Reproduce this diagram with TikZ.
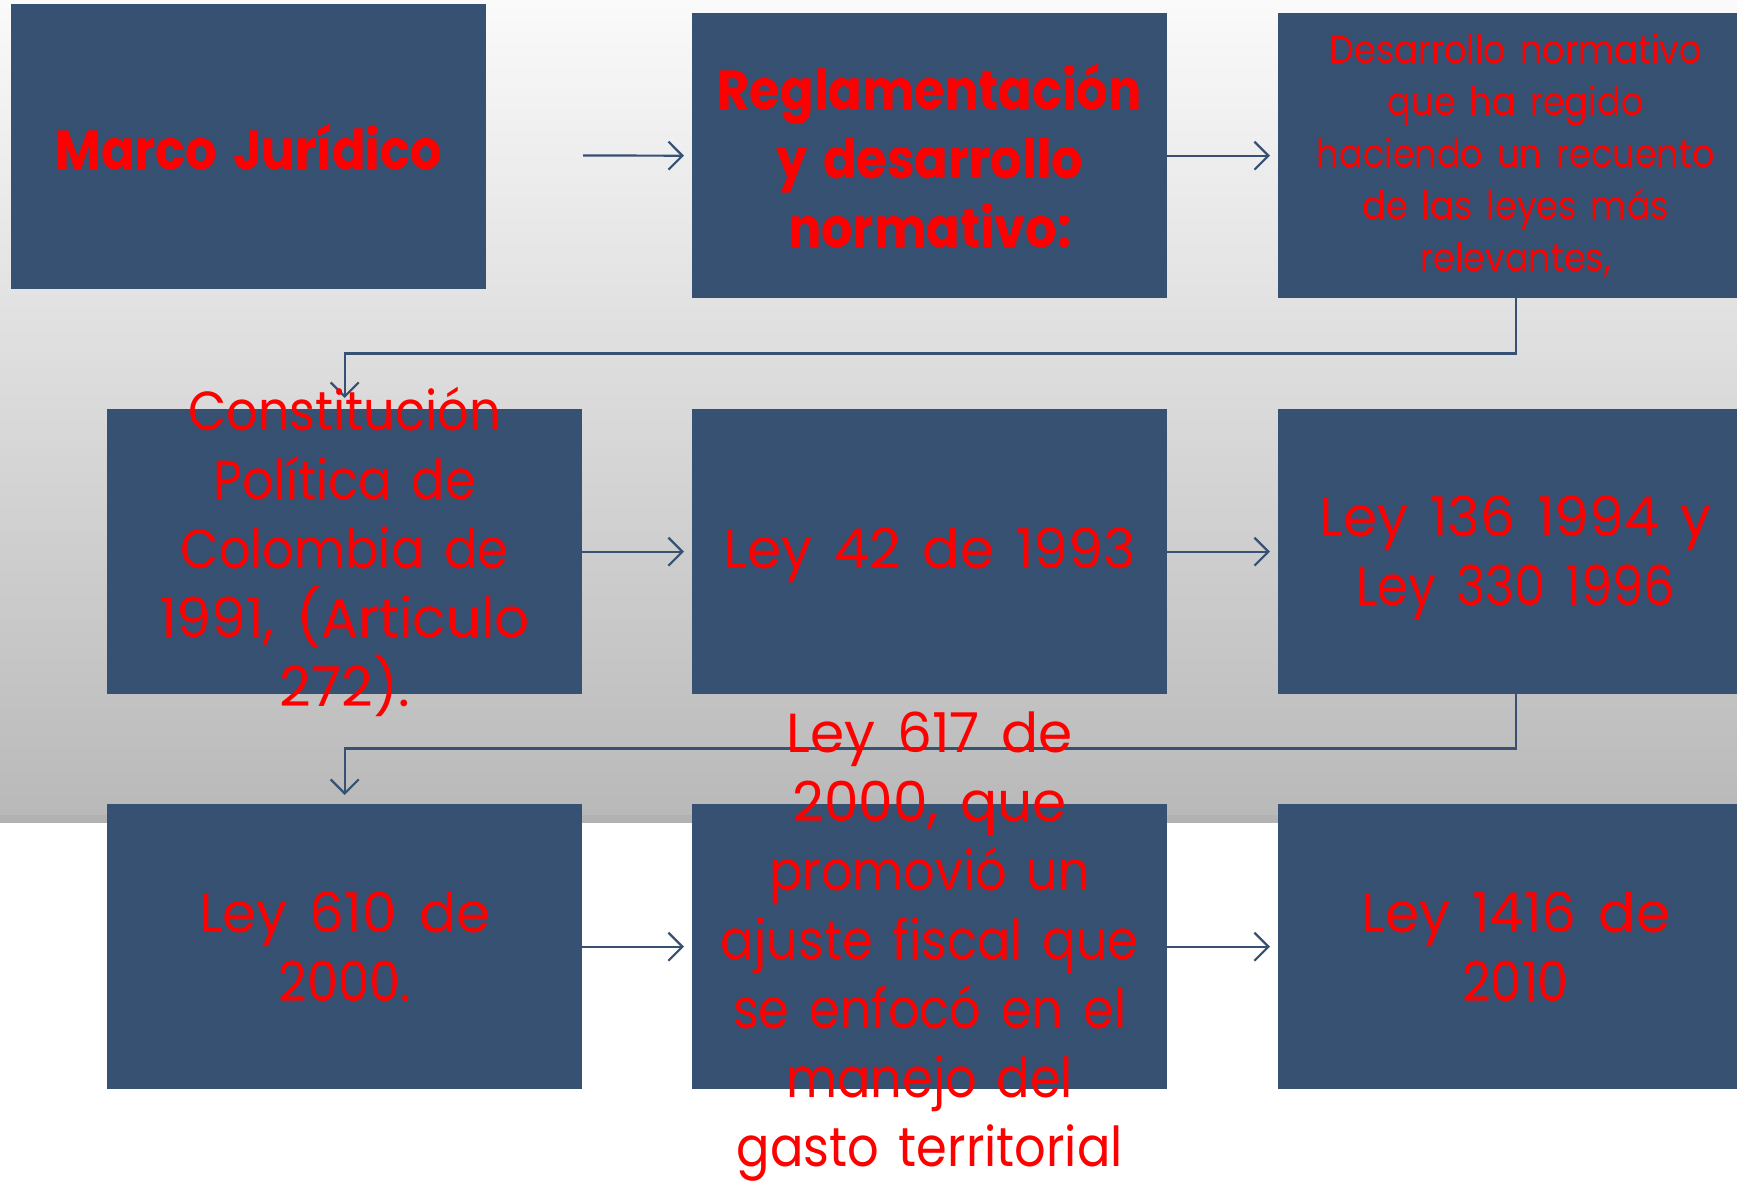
\documentclass[tikz,border=0pt]{standalone}
\usepackage{fontspec}
\setmainfont{Poppins}[FakeStretch=0.9, WordSpace=1.5]
\newfontfamily\widefont{Poppins}[FakeStretch=1.0, WordSpace=1.5]
\usetikzlibrary{arrows.meta}
\definecolor{boxblue}{HTML}{375172}
\definecolor{txtred}{HTML}{FF0000}
\definecolor{bgtop}{HTML}{FAFAFA}
\definecolor{bgbot}{HTML}{B9B9B9}
\definecolor{bgdark}{HTML}{B2B2B2}
\begin{document}
\begin{tikzpicture}[x=1pt,y=1pt,
  box/.style={rectangle, fill=boxblue, minimum width=475pt, minimum height=285pt, inner sep=0pt, anchor=north west},
  big/.style={text=txtred, align=center, inner sep=0pt, font=\fontsize{55}{69}\selectfont},
  bigb/.style={text=txtred, align=center, inner sep=0pt, font=\fontsize{55}{69}\selectfont\bfseries},
  small/.style={text=txtred, align=center, inner sep=0pt, font=\fontsize{39}{52}\selectfont},
  conn/.style={draw=boxblue, line width=2.2pt, -{Straight Barb[length=14pt,width=28pt,line width=2.2pt]}}]
\useasboundingbox (0,0) rectangle (1737,-1183);
\fill[white] (0,0) rectangle (1737,-1183);
\shade[top color=bgtop, bottom color=bgbot] (0,0) rectangle (1737,-815);
\fill[bgdark] (0,-815) rectangle (1737,-823);
% boxes
\node[box] (b1) at (11,-4) {};
\node[box] (b2) at (692,-13) {};
\node[box] (b3) at (1278,-13) {};
\node[box] (b4) at (107,-409) {};
\node[box] (b5) at (692,-409) {};
\node[box] (b6) at (1278,-409) {};
\node[box] (b7) at (107,-804) {};
\node[box] (b8) at (692,-804) {};
\node[box] (b9) at (1278,-804) {};
% connectors
\coordinate (s1) at (583,-155.5);
\draw[conn, shorten >=8pt] (s1) -- (b2.west);
\draw[conn, shorten >=8pt] (b2.east) -- (b3.west);
\draw[conn, shorten >=11pt] (b3.south) -- ++(0,-55) -| (b4.north);
\draw[conn, shorten >=8pt] (b4.east) -- (b5.west);
\draw[conn, shorten >=8pt] (b5.east) -- (b6.west);
\draw[conn, shorten >=9pt] (b6.south) -- ++(0,-54) -| (b7.north);
\draw[conn, shorten >=8pt] (b7.east) -- (b8.west);
\draw[conn, shorten >=8pt] (b8.east) -- (b9.west);
% texts
\node[bigb] (t1) at (b1) {Marco Jurídico};
\node[bigb] (t2) at (b2) {Reglamentación\\y desarrollo\\normativo:};
\node[small] (t3) at (b3) {Desarrollo normativo\\que ha regido\\haciendo un recuento\\de las leyes más\\relevantes,};
\node[big] (t4) at (b4) {Constitución\\Política de\\Colombia de\\{\widefont 1991, (Articulo}\\{\widefont 272).}};
\node[big] (t5) at ([yshift=-4pt]b5.center) {\widefont Ley 42 de 1993};
\node[big] (t6) at ([yshift=-6pt]b6.center) {\widefont Ley 136 1994 y\\Ley 330 1996};
\node[big] (t7) at (b7) {\widefont Ley 610 de\\2000.};
\node[big] (t8) at (b8) {{\widefont Ley 617 de}\\{\widefont 2000, que}\\promovió un\\ajuste fiscal que\\se enfocó en el\\manejo del\\gasto territorial};
\node[big] (t9) at (b9) {\widefont Ley 1416 de\\2010};
\end{tikzpicture}
\end{document}
